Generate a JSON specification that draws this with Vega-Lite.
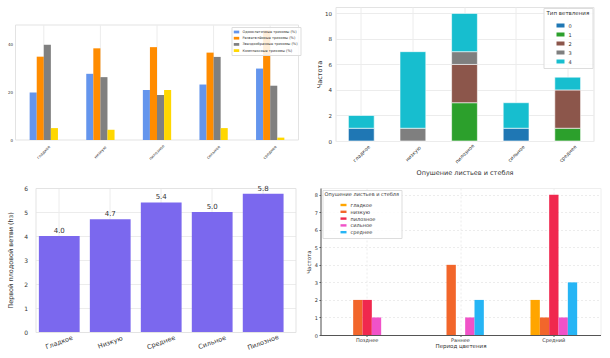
{
  "$schema": "https://vega.github.io/schema/vega-lite/v6.json",
  "padding": {"left": 6.5, "top": 6, "right": 0, "bottom": 0},
  "background": "white",
  "config": {
    "font": "DejaVu Sans",
    "view": {"stroke": "#e3e3e3"},
    "axis": {"labelColor": "#333333", "titleColor": "#333333", "titleFontWeight": "normal", "gridColor": "#ececec", "domain": false, "ticks": false, "labelOverlap": false},
    "legend": {"titleFontWeight": "normal", "titleColor": "#333333", "labelColor": "#333333", "symbolStrokeWidth": 0}
  },
  "align": "none",
  "resolve": {"scale": {"color": "independent", "xOffset": "independent", "x": "independent", "y": "independent"}, "legend": {"color": "independent"}},
  "datasets": {
    "trich": [
      {"cat": "гладкое", "type": "Одноклеточные трихомы (%)", "pct": 20},
      {"cat": "гладкое", "type": "Разветвлённые трихомы (%)", "pct": 35},
      {"cat": "гладкое", "type": "Звездообразные трихомы (%)", "pct": 40},
      {"cat": "гладкое", "type": "Комплексные трихомы (%)", "pct": 5},
      {"cat": "низкую", "type": "Одноклеточные трихомы (%)", "pct": 27.8},
      {"cat": "низкую", "type": "Разветвлённые трихомы (%)", "pct": 38.5},
      {"cat": "низкую", "type": "Звездообразные трихомы (%)", "pct": 26.4},
      {"cat": "низкую", "type": "Комплексные трихомы (%)", "pct": 4.3},
      {"cat": "пилозное", "type": "Одноклеточные трихомы (%)", "pct": 21},
      {"cat": "пилозное", "type": "Разветвлённые трихомы (%)", "pct": 39},
      {"cat": "пилозное", "type": "Звездообразные трихомы (%)", "pct": 18.9},
      {"cat": "пилозное", "type": "Комплексные трихомы (%)", "pct": 21},
      {"cat": "сильное", "type": "Одноклеточные трихомы (%)", "pct": 23.3},
      {"cat": "сильное", "type": "Разветвлённые трихомы (%)", "pct": 36.7},
      {"cat": "сильное", "type": "Звездообразные трихомы (%)", "pct": 34.9},
      {"cat": "сильное", "type": "Комплексные трихомы (%)", "pct": 5},
      {"cat": "среднее", "type": "Одноклеточные трихомы (%)", "pct": 30},
      {"cat": "среднее", "type": "Разветвлённые трихомы (%)", "pct": 46},
      {"cat": "среднее", "type": "Звездообразные трихомы (%)", "pct": 22.8},
      {"cat": "среднее", "type": "Комплексные трихомы (%)", "pct": 1}
    ],
    "cats": [
      {"cat": "гладкое"}, {"cat": "низкую"}, {"cat": "пилозное"}, {"cat": "сильное"}, {"cat": "среднее"}
    ],
    "branch": [
      {"cat": "гладкое", "branch": "0", "n": 1},
      {"cat": "гладкое", "branch": "4", "n": 1},
      {"cat": "низкую", "branch": "3", "n": 1},
      {"cat": "низкую", "branch": "4", "n": 6},
      {"cat": "пилозное", "branch": "1", "n": 3},
      {"cat": "пилозное", "branch": "2", "n": 3},
      {"cat": "пилозное", "branch": "3", "n": 1},
      {"cat": "пилозное", "branch": "4", "n": 3},
      {"cat": "сильное", "branch": "0", "n": 1},
      {"cat": "сильное", "branch": "4", "n": 2},
      {"cat": "среднее", "branch": "1", "n": 1},
      {"cat": "среднее", "branch": "2", "n": 3},
      {"cat": "среднее", "branch": "4", "n": 1}
    ],
    "height": [
      {"cat": "Гладкое", "h": 4.0, "label": "4.0"},
      {"cat": "Низкую", "h": 4.7, "label": "4.7"},
      {"cat": "Среднее", "h": 5.4, "label": "5.4"},
      {"cat": "Сильное", "h": 5.0, "label": "5.0"},
      {"cat": "Пилозное", "h": 5.76, "label": "5.8"}
    ],
    "flower": [
      {"period": "Позднее", "pub": "гладкое", "n": 0},
      {"period": "Позднее", "pub": "низкую", "n": 2},
      {"period": "Позднее", "pub": "пилозное", "n": 2},
      {"period": "Позднее", "pub": "сильное", "n": 1},
      {"period": "Позднее", "pub": "среднее", "n": 0},
      {"period": "Раннее", "pub": "гладкое", "n": 0},
      {"period": "Раннее", "pub": "низкую", "n": 4},
      {"period": "Раннее", "pub": "пилозное", "n": 0},
      {"period": "Раннее", "pub": "сильное", "n": 1},
      {"period": "Раннее", "pub": "среднее", "n": 2},
      {"period": "Средний", "pub": "гладкое", "n": 2},
      {"period": "Средний", "pub": "низкую", "n": 1},
      {"period": "Средний", "pub": "пилозное", "n": 8},
      {"period": "Средний", "pub": "сильное", "n": 1},
      {"period": "Средний", "pub": "среднее", "n": 3}
    ]
  },
  "spacing": 7,
  "vconcat": [
    {
      "spacing": 14,
      "align": "none",
      "resolve": {"scale": {"color": "independent", "xOffset": "independent", "x": "independent", "y": "independent"}, "legend": {"color": "independent"}},
      "hconcat": [
        {
          "width": 283,
          "height": 133,
          "view": {"stroke": null},
          "layer": [
            {
              "data": {"values": [{"frame": 1}]},
              "mark": {"type": "rect", "fill": null, "stroke": "#e3e3e3", "strokeWidth": 1},
              "encoding": {
                "y": {"datum": 0, "type": "quantitative"},
                "y2": {"datum": 48.3}
              }
            },
            {
              "data": {"name": "cats"},
              "mark": {"type": "rule", "color": "#ececec", "strokeWidth": 1},
              "encoding": {
                "x": {"field": "cat", "type": "nominal"},
                "y": {"datum": 0, "type": "quantitative"},
                "y2": {"datum": 48.3}
              }
            },
            {
              "data": {"name": "trich"},
              "mark": {"type": "bar"},
              "encoding": {
                "x": {"field": "cat", "type": "nominal", "sort": ["гладкое", "низкую", "пилозное", "сильное", "среднее"],
                  "scale": {"paddingInner": 0.5, "paddingOuter": 0.25},
                  "axis": {"title": null, "labelAngle": -45, "labelAlign": "center", "labelBaseline": "middle", "labelPadding": 12, "labelFontSize": 4, "grid": false}},
                "xOffset": {"field": "type", "type": "nominal", "sort": ["Одноклеточные трихомы (%)", "Разветвлённые трихомы (%)", "Звездообразные трихомы (%)", "Комплексные трихомы (%)"]},
                "y": {"field": "pct", "type": "quantitative", "scale": {"domain": [0, 55.86], "nice": false},
                  "axis": {"title": null, "values": [0, 10, 20, 30, 40], "labelFontSize": 4, "labelPadding": 3, "minExtent": 9, "maxExtent": 9}},
                "color": {"field": "type", "type": "nominal",
                  "scale": {"domain": ["Одноклеточные трихомы (%)", "Разветвлённые трихомы (%)", "Звездообразные трихомы (%)", "Комплексные трихомы (%)"], "range": ["#6495ED", "#FF8C00", "#808080", "#FFD700"]},
                  "legend": {"title": null, "orient": "none", "legendX": 216, "legendY": 20, "labelFontSize": 3.5, "labelOffset": 3, "symbolType": "M-1,-0.5L1,-0.5L1,0.5L-1,0.5Z", "symbolSize": 30, "rowPadding": 1.2, "padding": 2, "fillColor": "rgba(255,255,255,0.85)", "strokeColor": "#dddddd", "labelLimit": 200}}
              }
            }
          ]
        },
        {
          "width": 258,
          "height": 134,
          "data": {"name": "branch"},
          "mark": {"type": "bar", "stroke": "white", "strokeWidth": 0.6},
          "encoding": {
            "x": {"field": "cat", "type": "nominal", "sort": ["гладкое", "низкую", "пилозное", "сильное", "среднее"],
              "scale": {"paddingInner": 0.5, "paddingOuter": 0.25},
              "axis": {"title": "Опушение листьев и стебля", "titleFontSize": 6.5, "titlePadding": 6, "labelAngle": -45, "labelAlign": "center", "labelBaseline": "middle", "labelPadding": 12, "labelFontSize": 5, "grid": true, "bandPosition": 0.5}},
            "y": {"field": "n", "type": "quantitative", "stack": "zero", "scale": {"domain": [0, 10.5], "nice": false},
              "axis": {"title": "Частота", "titleFontSize": 6.5, "titlePadding": 3, "values": [0, 2, 4, 6, 8, 10], "labelFontSize": 5.5, "labelPadding": 4, "minExtent": 10, "maxExtent": 10}},
            "order": {"field": "branch", "type": "ordinal", "sort": "ascending"},
            "color": {"field": "branch", "type": "nominal",
              "scale": {"domain": ["0", "1", "2", "3", "4"], "range": ["#1f77b4", "#2ca02c", "#8c564b", "#7f7f7f", "#17becf"]},
              "legend": {"title": "Тип ветвления", "titleFontSize": 5.5, "orient": "top-right", "offset": 1, "labelFontSize": 5, "symbolType": "M-1,-0.5L1,-0.5L1,0.5L-1,0.5Z", "symbolSize": 64, "symbolOffset": 10, "rowPadding": 2, "padding": 3, "fillColor": "rgba(255,255,255,0.85)", "strokeColor": "#dddddd"}}
          }
        }
      ]
    },
    {
      "spacing": 10,
      "align": "none",
      "resolve": {"scale": {"color": "independent", "xOffset": "independent", "x": "independent", "y": "independent"}, "legend": {"color": "independent"}},
      "hconcat": [
        {
          "width": 280,
          "height": 144,
          "view": {"stroke": null},
          "data": {"name": "height"},
          "resolve": {"axis": {"x": "independent", "y": "independent"}},
          "layer": [
            {
              "mark": {"type": "bar", "color": "#7B68EE"},
              "encoding": {
                "x": {"field": "cat", "type": "nominal", "sort": ["Гладкое", "Низкую", "Среднее", "Сильное", "Пилозное"],
                  "scale": {"range": [20, 280], "paddingInner": 0.2, "paddingOuter": 0.15, "align": 0.22},
                  "axis": {"title": null, "labelAngle": -20, "labelAlign": "center", "labelBaseline": "middle", "labelPadding": 10, "labelFontSize": 6.5, "grid": true, "bandPosition": 0.5, "domain": true, "domainColor": "#e3e3e3"}},
                "y": {"field": "h", "type": "quantitative", "scale": {"domain": [0, 6], "nice": false},
                  "axis": {"title": "Первой плодовой ветви (hз)", "titleFontSize": 6.5, "titlePadding": 3, "values": [0, 1, 2, 3, 4, 5, 6], "labelFontSize": 6, "labelPadding": 8, "minExtent": 19, "maxExtent": 19, "offset": -20, "domain": true, "domainColor": "#e3e3e3"}}
              }
            },
            {
              "mark": {"type": "text", "baseline": "bottom", "dy": -2, "fontSize": 7, "color": "#333333"},
              "encoding": {
                "x": {"field": "cat", "type": "nominal", "sort": ["Гладкое", "Низкую", "Среднее", "Сильное", "Пилозное"],
                  "axis": {"orient": "top", "title": null, "labels": false, "ticks": false, "grid": false, "domain": true, "domainColor": "#e3e3e3", "minExtent": 0, "maxExtent": 0}},
                "y": {"field": "h", "type": "quantitative",
                  "axis": {"orient": "right", "title": null, "labels": false, "ticks": false, "grid": false, "domain": true, "domainColor": "#e3e3e3", "minExtent": 0, "maxExtent": 0}},
                "text": {"field": "label"}
              }
            }
          ]
        },
        {
          "width": 280,
          "height": 147,
          "view": {"stroke": "#eeeeee"},
          "data": {"name": "flower"},
          "mark": {"type": "bar"},
          "encoding": {
            "x": {"field": "period", "type": "nominal", "sort": ["Позднее", "Раннее", "Средний"],
              "scale": {"paddingInner": 0.5, "paddingOuter": 0.25},
              "axis": {"title": "Период цветения", "titleFontSize": 5.5, "titlePadding": 1, "labelAngle": 0, "labelFontSize": 5, "labelPadding": 1, "grid": true, "gridDash": [2, 2], "bandPosition": 0.5, "domain": true, "domainColor": "#555555", "ticks": true, "tickSize": 1.5, "tickColor": "#555555"}},
            "xOffset": {"field": "pub", "type": "nominal", "sort": ["гладкое", "низкую", "пилозное", "сильное", "среднее"]},
            "y": {"field": "n", "type": "quantitative", "scale": {"domain": [0, 8.38], "nice": false},
              "axis": {"title": "Частота", "titleFontSize": 5.5, "titlePadding": 2, "values": [0, 1, 2, 3, 4, 5, 6, 7, 8], "labelFontSize": 5, "labelPadding": 1.5, "minExtent": 7, "maxExtent": 7, "grid": true, "gridDash": [2, 2], "domain": true, "domainColor": "#555555", "ticks": true, "tickSize": 1.5, "tickColor": "#555555"}},
            "color": {"field": "pub", "type": "nominal",
              "scale": {"domain": ["гладкое", "низкую", "пилозное", "сильное", "среднее"], "range": ["#FFA500", "#F2662B", "#F0284E", "#F052C8", "#26B5F5"]},
              "legend": {"title": "Опушение листьев и стебля", "titleFontSize": 5, "orient": "top-left", "offset": 2, "labelFontSize": 5, "symbolType": "M-1,-0.4L1,-0.4L1,0.4L-1,0.4Z", "symbolSize": 36, "symbolOffset": 16, "rowPadding": 0.8, "padding": 2, "fillColor": "rgba(255,255,255,0.85)", "strokeColor": "#dddddd"}}
          }
        }
      ]
    }
  ]
}
